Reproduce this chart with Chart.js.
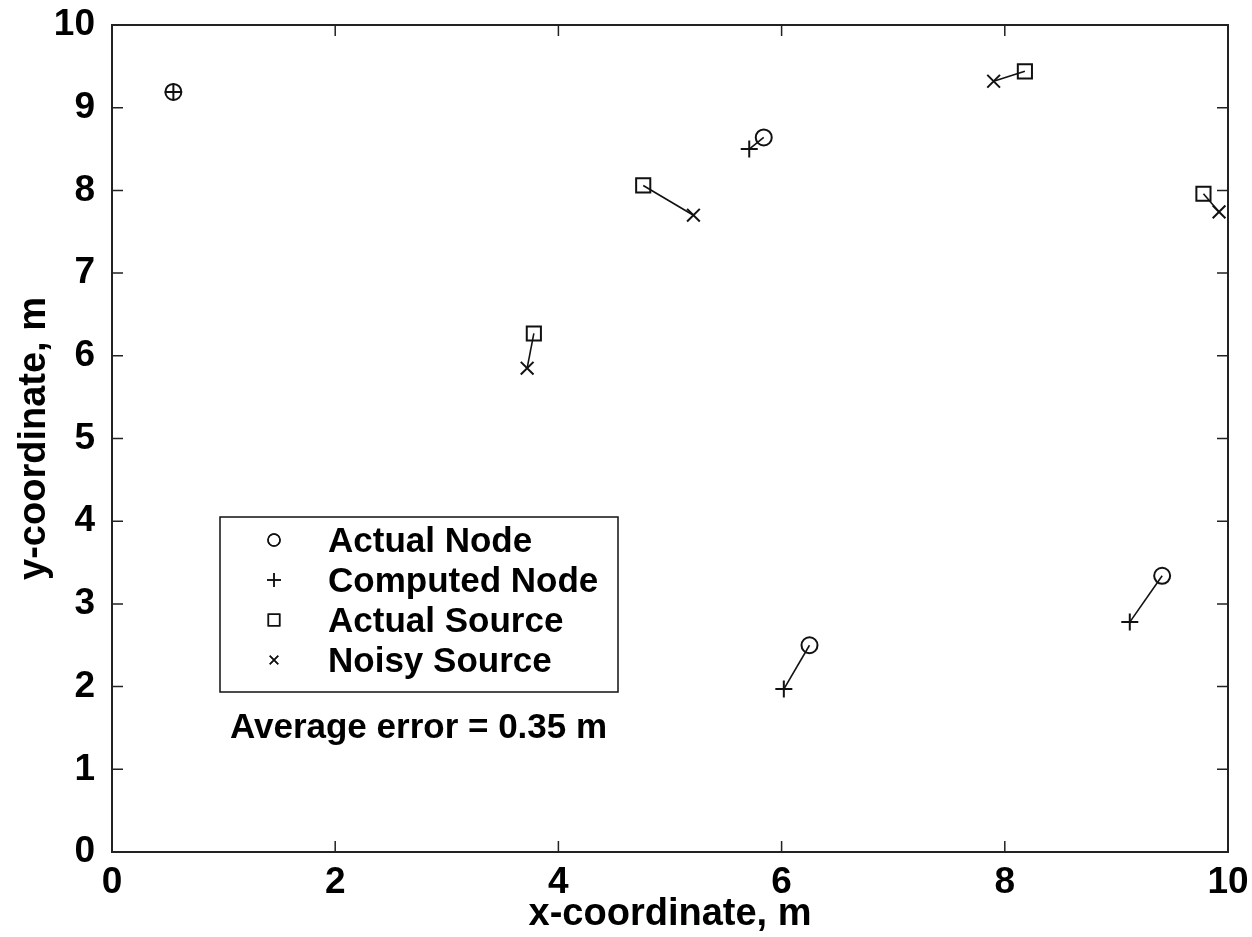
<!DOCTYPE html>
<html>
<head>
<meta charset="utf-8">
<script src="https://cdn.jsdelivr.net/npm/chart.js@4"></script>
<style>
  html, body { margin: 0; padding: 0; background: #fff; }
  #wrap { width: 1252px; height: 937px; }
</style>
</head>
<body>
<div id="wrap"><canvas id="locChart" width="1252" height="937"></canvas></div>
<script>
// node positions (m)
const actualNodeX = [0.55, 5.84, 6.25, 9.41];
const actualNodeY = [9.19, 8.64, 2.50, 3.34];
const computedNodeX = [0.55, 5.71, 6.02, 9.12];
const computedNodeY = [9.19, 8.50, 1.97, 2.78];

// source positions (m)
const actualSourceX = [8.18, 4.76, 3.78, 9.78];
const actualSourceY = [9.44, 8.06, 6.27, 7.96];
const noisySourceX = [7.90, 5.21, 3.72, 9.92];
const noisySourceY = [9.32, 7.70, 5.85, 7.74];

const tickValues = [0, 1, 2, 3, 4, 5, 6, 7, 8, 9, 10];
const legendLabels = ['Actual Node', 'Computed Node', 'Actual Source', 'Noisy Source'];
const legendStyles = ['circle', 'cross', 'rect', 'crossRot'];
const errorNote = 'Average error = 0.35 m';

const FONT = "'Liberation Sans', Arial, Helvetica, sans-serif";

function pts(xs, ys) {
  return xs.map((x, i) => ({x: x, y: ys[i]}));
}

// one little line dataset for each actual/estimated pair
function links(ax, ay, bx, by) {
  return ax.map((x, i) => ({
    type: 'line',
    data: [{x: x, y: ay[i]}, {x: bx[i], y: by[i]}],
    borderColor: '#111',
    borderWidth: 1.6,
    pointRadius: 0,
    showLine: true,
    fill: false
  }));
}

function marker(data, style, radius) {
  return {
    data: data,
    pointStyle: style,
    pointRadius: radius,
    pointHoverRadius: radius,
    pointBorderWidth: 2,
    pointBorderColor: '#111',
    pointBackgroundColor: 'rgba(0,0,0,0)',
    showLine: false
  };
}

// box with inward ticks on all four sides, plus the legend box
const frame = {
  id: 'frame',
  afterDraw(c) {
    const ctx = c.ctx;
    const a = c.chartArea;
    const xs = c.scales.x, ys = c.scales.y;
    ctx.save();
    ctx.strokeStyle = '#222';
    ctx.lineWidth = 2;
    ctx.strokeRect(a.left, a.top, a.right - a.left, a.bottom - a.top);
    ctx.lineWidth = 1.5;
    const tl = 11;
    ctx.beginPath();
    tickValues.forEach(v => {
      if (v % 2 === 0 && v > 0 && v < 10) {
        const px = xs.getPixelForValue(v);
        ctx.moveTo(px, a.bottom); ctx.lineTo(px, a.bottom - tl);
        ctx.moveTo(px, a.top); ctx.lineTo(px, a.top + tl);
      }
      if (v > 0 && v < 10) {
        const py = ys.getPixelForValue(v);
        ctx.moveTo(a.left, py); ctx.lineTo(a.left + tl, py);
        ctx.moveTo(a.right, py); ctx.lineTo(a.right - tl, py);
      }
    });
    ctx.stroke();

    // legend
    const lx = a.left + 108, ly = a.top + 492, lw = 398, lh = 175;
    ctx.lineWidth = 1.5;
    ctx.strokeStyle = '#111';
    ctx.fillStyle = '#fff';
    ctx.fillRect(lx, ly, lw, lh);
    ctx.strokeRect(lx, ly, lw, lh);
    const radii = [6, 7, 8, 6];
    ctx.font = 'bold 35px ' + FONT;
    ctx.textBaseline = 'middle';
    ctx.textAlign = 'left';
    legendLabels.forEach((lab, i) => {
      const cy = ly + 23 + i * 40;
      ctx.lineWidth = 1.5;
      ctx.strokeStyle = '#111';
      ctx.fillStyle = 'rgba(0,0,0,0)';
      Chart.helpers.drawPoint(ctx, {pointStyle: legendStyles[i], radius: radii[i], borderWidth: 1.5}, lx + 54, cy);
      ctx.stroke();
      ctx.fillStyle = '#000';
      ctx.fillText(lab, lx + 108, cy + 2);
    });
    ctx.fillStyle = '#000';
    ctx.fillText(errorNote, a.left + 118, ly + lh + 36);
    ctx.restore();
  }
};

const datasets = [].concat(
  links(actualNodeX, actualNodeY, computedNodeX, computedNodeY),
  links(actualSourceX, actualSourceY, noisySourceX, noisySourceY),
  [
    marker(pts(actualNodeX, actualNodeY), 'circle', 8),
    marker(pts(computedNodeX, computedNodeY), 'cross', 8.5),
    marker(pts(actualSourceX, actualSourceY), 'rect', 10),
    marker(pts(noisySourceX, noisySourceY), 'crossRot', 9)
  ]
);

new Chart(document.getElementById('locChart').getContext('2d'), {
  type: 'scatter',
  data: { datasets: datasets },
  plugins: [frame],
  options: {
    responsive: false,
    animation: false,
    events: [],
    layout: { padding: { left: 0, top: 25, right: 24, bottom: 0 } },
    plugins: { legend: { display: false }, tooltip: { enabled: false } },
    scales: {
      x: {
        type: 'linear',
        min: 0, max: 10,
        afterFit: s => { s.height = 85; s.paddingRight = 0; s.paddingLeft = 0; },
        afterBuildTicks: s => { s.ticks = tickValues.filter(v => v % 2 === 0).map(v => ({value: v})); },
        grid: { display: false, drawTicks: false },
        border: { display: false },
        ticks: { color: '#000', padding: 9, font: { family: FONT, size: 37, weight: 'bold' } },
        title: { display: true, text: 'x-coordinate, m', color: '#000', padding: { top: 0, bottom: 0 },
                 font: { family: FONT, size: 38, weight: 'bold' } }
      },
      y: {
        type: 'linear',
        min: 0, max: 10,
        afterFit: s => { s.width = 112; s.paddingTop = 0; s.paddingBottom = 0; },
        afterBuildTicks: s => { s.ticks = tickValues.map(v => ({value: v})); },
        grid: { display: false, drawTicks: false },
        border: { display: false },
        ticks: { color: '#000', padding: 17, font: { family: FONT, size: 37, weight: 'bold' } },
        title: { display: true, text: 'y-coordinate, m', color: '#000', padding: { top: 12, bottom: 0 },
                 font: { family: FONT, size: 38, weight: 'bold' } }
      }
    }
  }
});
</script>
</body>
</html>
